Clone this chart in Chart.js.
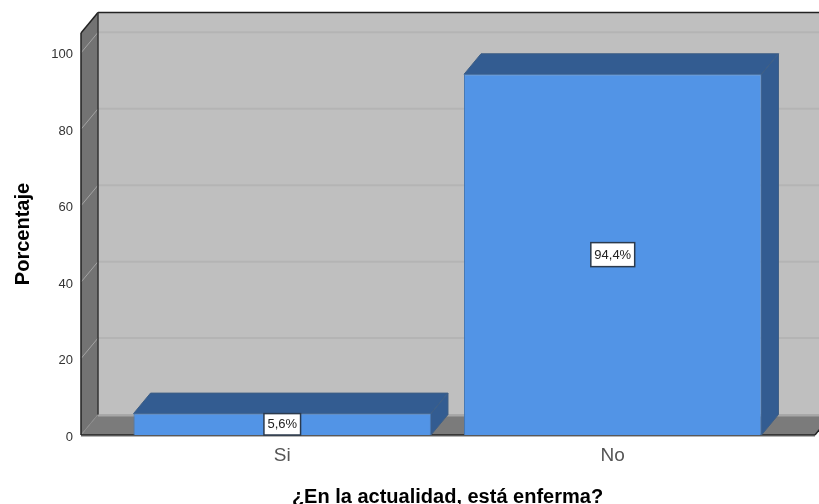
<!DOCTYPE html>
<html>
<head>
<meta charset="utf-8">
<style>
  html, body { margin: 0; padding: 0; background: #fff; }
  canvas { display: block; }
</style>
<script src="https://cdn.jsdelivr.net/npm/chart.js@4"></script>
</head>
<body>
<canvas id="myChart" width="819" height="504"></canvas>
<script>
const categorias = ["Si", "No"]
const porcentajes = [5.6, 94.4]
const ticksY = [0, 20, 40, 60, 80, 100]
const tituloX = "¿En la actualidad, está enferma?"
const tituloY = "Porcentaje"

// 3D look, same depth for walls and bars
const depthX = 17
const depthY = 20.5
const sobraIzq = 36
const sobraDer = 37

function poly(ctx, pts, fill, stroke) {
    ctx.beginPath()
    ctx.moveTo(pts[0][0], pts[0][1])
    for (let i = 1; i < pts.length; i++) {
        ctx.lineTo(pts[i][0], pts[i][1])
    }
    ctx.closePath()
    if (fill) {
        ctx.fillStyle = fill
        ctx.fill()
    }
    if (stroke) {
        ctx.strokeStyle = stroke
        ctx.lineWidth = 1
        ctx.stroke()
    }
}

function line(ctx, x1, y1, x2, y2, color, width) {
    ctx.beginPath()
    ctx.moveTo(x1, y1)
    ctx.lineTo(x2, y2)
    ctx.strokeStyle = color
    ctx.lineWidth = width
    ctx.stroke()
}

const paredes = {
    id: "paredes",
    beforeDatasetsDraw(chart) {
        const ctx = chart.ctx
        const area = chart.chartArea
        const y = chart.scales.y
        const left = area.left - sobraIzq
        const right = area.right + sobraDer
        const top = area.top
        const bottom = area.bottom

        ctx.save()
        // back wall
        poly(ctx, [[left + depthX, top - depthY], [819, top - depthY], [819, bottom - depthY], [left + depthX, bottom - depthY]], "#bfbfbf")
        // floor
        poly(ctx, [[left, bottom], [left + depthX, bottom - depthY], [right + depthX, bottom - depthY], [right, bottom]], "#7b7b7b")
        line(ctx, left + depthX, bottom - depthY + 1, 819, bottom - depthY + 1, "#a6a6a6", 2)
        // left wall
        poly(ctx, [[left, top], [left + depthX, top - depthY], [left + depthX, bottom - depthY], [left, bottom]], "#737373")

        // grid lines
        ticksY.forEach(function (t) {
            if (t == 0) return
            let py = y.getPixelForValue(t)
            line(ctx, left + depthX, py - depthY, 819, py - depthY, "#b4b4b4", 2)
            line(ctx, left, py, left + depthX, py - depthY, "#a3a3a3", 1)
        })
        line(ctx, left, bottom, left + depthX, bottom - depthY, "#8c8c8c", 1)

        // dark edges
        line(ctx, left + depthX, top - depthY, 819, top - depthY, "#222", 1.5)
        line(ctx, left, top, left + depthX, top - depthY, "#222", 1.5)
        line(ctx, left, top, left, bottom, "#222", 1.5)
        line(ctx, left + depthX, top - depthY, left + depthX, bottom - depthY, "#333", 1.5)
        line(ctx, right, bottom, right + depthX, bottom - depthY, "#222", 1.5)
        line(ctx, left, bottom + 1.5, right, bottom + 1.5, "#b5b5b5", 1)
        line(ctx, left, bottom, right, bottom, "#222", 1.5)

        // top and side of every bar
        chart.getDatasetMeta(0).data.forEach(function (bar) {
            let x1 = bar.x - bar.width / 2
            let x2 = bar.x + bar.width / 2
            poly(ctx, [[x1, bar.y], [x1 + depthX, bar.y - depthY], [x2 + depthX, bar.y - depthY], [x2, bar.y]], "#335c91", "#3f5f85")
            poly(ctx, [[x2, bar.y], [x2 + depthX, bar.y - depthY], [x2 + depthX, bar.base - depthY], [x2, bar.base]], "#335c91", "#3f5f85")
        })
        ctx.restore()
    }
}

const etiquetas = {
    id: "etiquetas",
    afterDatasetsDraw(chart) {
        const ctx = chart.ctx
        ctx.save()
        ctx.font = "13px 'Liberation Sans'"
        ctx.textAlign = "center"
        ctx.textBaseline = "middle"
        chart.getDatasetMeta(0).data.forEach(function (bar, i) {
            let texto = porcentajes[i].toFixed(1).replace(".", ",") + "%"
            let w = ctx.measureText(texto).width + 7
            let h = Math.min(24, bar.base - bar.y)
            let cy = (bar.y + bar.base) / 2
            ctx.fillStyle = "#fff"
            ctx.strokeStyle = "#2b3a4d"
            ctx.lineWidth = 1.5
            ctx.fillRect(bar.x - w / 2, cy - h / 2, w, h)
            ctx.strokeRect(bar.x - w / 2, cy - h / 2, w, h)
            ctx.fillStyle = "#222"
            ctx.fillText(texto, bar.x, cy + 0.5)
        })
        ctx.restore()
    }
}

new Chart(document.getElementById("myChart").getContext("2d"), {
    type: "bar",
    data: {
        labels: categorias,
        datasets: [{
            data: porcentajes,
            backgroundColor: "#5294e6",
            borderColor: "#4477b5",
            borderWidth: 1,
            barPercentage: 0.9,
            categoryPercentage: 1
        }]
    },
    plugins: [paredes, etiquetas],
    options: {
        responsive: false,
        animation: false,
        layout: { padding: { top: 33, right: 41, left: 0, bottom: 0 } },
        plugins: {
            legend: { display: false },
            tooltip: { enabled: false }
        },
        scales: {
            x: {
                afterFit(scale) { scale.height = 69; scale.paddingLeft = 0; scale.paddingRight = 0 },
                grid: { display: false },
                border: { display: false },
                ticks: {
                    color: "#555",
                    font: { family: "'Liberation Sans'", size: 19 },
                    padding: 1
                },
                title: {
                    display: true,
                    text: tituloX,
                    color: "#000",
                    font: { family: "'Liberation Sans'", size: 20, weight: "bold" },
                    padding: { top: 19, bottom: -5 }
                }
            },
            y: {
                min: 0,
                max: 105.2,
                afterFit(scale) { scale.width = 117; scale.paddingTop = 0; scale.paddingBottom = 0 },
                afterBuildTicks(scale) { scale.ticks = ticksY.map(function (v) { return { value: v } }) },
                grid: { display: false },
                border: { display: false },
                ticks: {
                    color: "#333",
                    font: { family: "'Liberation Sans'", size: 13 },
                    padding: 36,
                    labelOffset: 2
                },
                title: {
                    display: true,
                    text: tituloY,
                    color: "#000",
                    font: { family: "'Liberation Sans'", size: 20, weight: "bold" },
                    padding: { top: 11, bottom: 0 }
                }
            }
        }
    }
})
</script>
</body>
</html>
